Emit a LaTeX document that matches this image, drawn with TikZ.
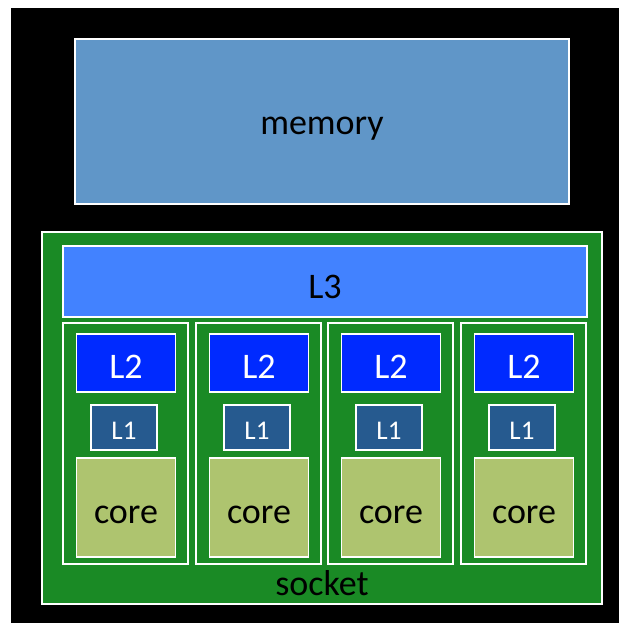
\documentclass[tikz,border=0pt]{standalone}
\usepackage{fontspec}
\setmainfont{Carlito}
\definecolor{memblue}{RGB}{96,150,200}
\definecolor{lthree}{RGB}{66,130,255}
\definecolor{ltwo}{RGB}{0,42,255}
\definecolor{lone}{RGB}{38,90,143}
\definecolor{corefill}{RGB}{174,196,111}
\definecolor{socketgreen}{RGB}{26,138,37}
\tikzset{
  box/.style={draw=white, line width=1.5pt, rectangle, inner sep=0pt, outer sep=0pt},
  bigtext/.style={font=\fontsize{36}{40}\selectfont, text height=30pt, text depth=0pt},
  smalltext/.style={font=\fontsize{27}{30}\selectfont, text height=23pt, text depth=0pt},
}
\begin{document}
\begin{tikzpicture}[x=1pt, y=-1pt]
  \useasboundingbox (0,0) rectangle (619,623);
  \fill[white] (0,0) rectangle (619,623);
  \fill[black] (11,8) rectangle (619,623);

  % main memory
  \node[box, fill=memblue, bigtext, text height=27pt, minimum width=494pt, minimum height=165pt]
    (memory) at (322,121.5) {memory};

  % socket with shared L3
  \node[box, fill=socketgreen, minimum width=560pt, minimum height=372pt]
    (socket) at (322,418) {};
  \node[box, fill=lthree, bigtext, text height=33pt, minimum width=524pt, minimum height=71pt]
    (L3) at (325,281.5) {L3};
  \node[font=\fontsize{36}{40}\selectfont, anchor=base, inner sep=0pt] (socketlabel) at (322,595) {socket};

  % four cores, each with private L2 and L1
  \foreach \i/\x in {1/63, 2/196, 3/328, 4/461} {
    \node[box, fill=socketgreen, minimum width=125pt, minimum height=241pt]
      (col\i) at (\x+62.5,443.5) {};
    \node[box, fill=ltwo, text=white, bigtext, minimum width=99pt, minimum height=58pt]
      (ltwo\i) at (\x+63,363) {L2};
    \node[box, fill=lone, text=white, smalltext, minimum width=66pt, minimum height=45pt]
      (lone\i) at (\x+61,427.5) {L1};
    \node[box, fill=corefill, bigtext, text height=31pt, minimum width=99pt, minimum height=99pt]
      (core\i) at (\x+63,507.5) {core};
  }
\end{tikzpicture}
\end{document}
